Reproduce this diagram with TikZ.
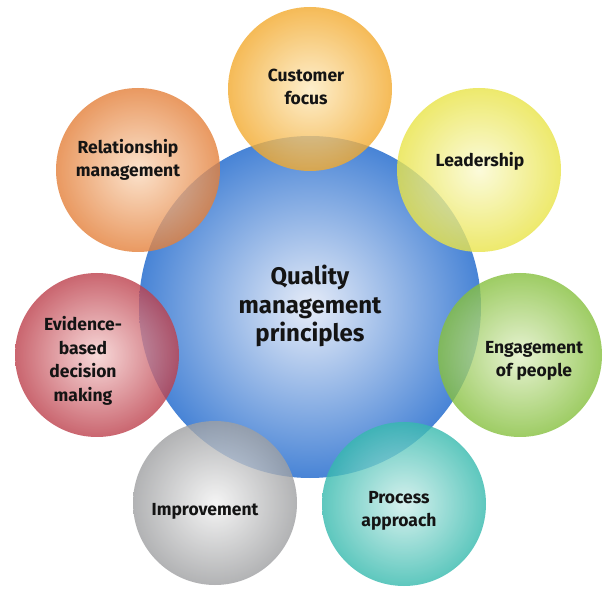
\documentclass[tikz,border=0pt]{standalone}
\usepackage{fontspec}
\setmainfont{Fira Sans}
\begin{document}
\begin{tikzpicture}[x=1pt,y=-1pt,
  ball/.style={circle, minimum size=164pt, inner sep=0pt, shading=radial, fill opacity=0.8},
  core/.style={circle, minimum size=342pt, inner sep=0pt, shading=radial, inner color=coreIn, outer color=coreOut},
  ballText/.style={align=center, inner sep=0pt, text=black!92, font=\bfseries\fontsize{17.5}{23.5}\selectfont},
  coreText/.style={align=center, inner sep=0pt, text=black!92, font=\bfseries\fontsize{24}{28.5}\selectfont}]
\definecolor{coreIn}{HTML}{E6ECF8}
\definecolor{coreOut}{HTML}{4884D6}
\definecolor{custIn}{HTML}{FDEBC0}
\definecolor{custOut}{HTML}{F3AA2E}
\definecolor{leadIn}{HTML}{FBFAD2}
\definecolor{leadOut}{HTML}{E9E448}
\definecolor{engIn}{HTML}{E2F0C8}
\definecolor{engOut}{HTML}{86C03E}
\definecolor{procIn}{HTML}{CDEEEA}
\definecolor{procOut}{HTML}{36BAAE}
\definecolor{impIn}{HTML}{F2F2F2}
\definecolor{impOut}{HTML}{9FA0A2}
\definecolor{evIn}{HTML}{F6D0D0}
\definecolor{evOut}{HTML}{BD404C}
\definecolor{relIn}{HTML}{FBDCC0}
\definecolor{relOut}{HTML}{E4803A}
\useasboundingbox[fill=white] (0,0) rectangle (614,596);
% circles
\node[core] (qmp) at (310,307) {};
\node[ball, inner color=custIn, outer color=custOut] (cust) at (310,89) {};
\node[ball, inner color=leadIn, outer color=leadOut] (lead) at (479,170) {};
\node[ball, inner color=engIn, outer color=engOut] (eng) at (520,355) {};
\node[ball, inner color=procIn, outer color=procOut] (proc) at (404,504) {};
\node[ball, inner color=impIn, outer color=impOut] (imp) at (215,503) {};
\node[ball, inner color=evIn, outer color=evOut] (ev) at (97,355) {};
\node[ball, inner color=relIn, outer color=relOut] (rel) at (138,170) {};
% labels
\node[coreText] (qmpT) at (310,306) {Quality\\management\\principles};
\node[ballText] (custT) at (306,87) {Customer\\focus};
\node[ballText] (leadT) at (480,161) {Leadership};
\node[ballText] (engT) at (534,361) {Engagement\\of people};
\node[ballText] (procT) at (399,511) {Process\\approach};
\node[ballText] (impT) at (205,511) {Improvement};
\node[ballText] (evT) at (83,361) {Evidence-\\based\\decision\\making};
\node[ballText] (relT) at (128,160) {Relationship\\management};
\end{tikzpicture}
\end{document}
